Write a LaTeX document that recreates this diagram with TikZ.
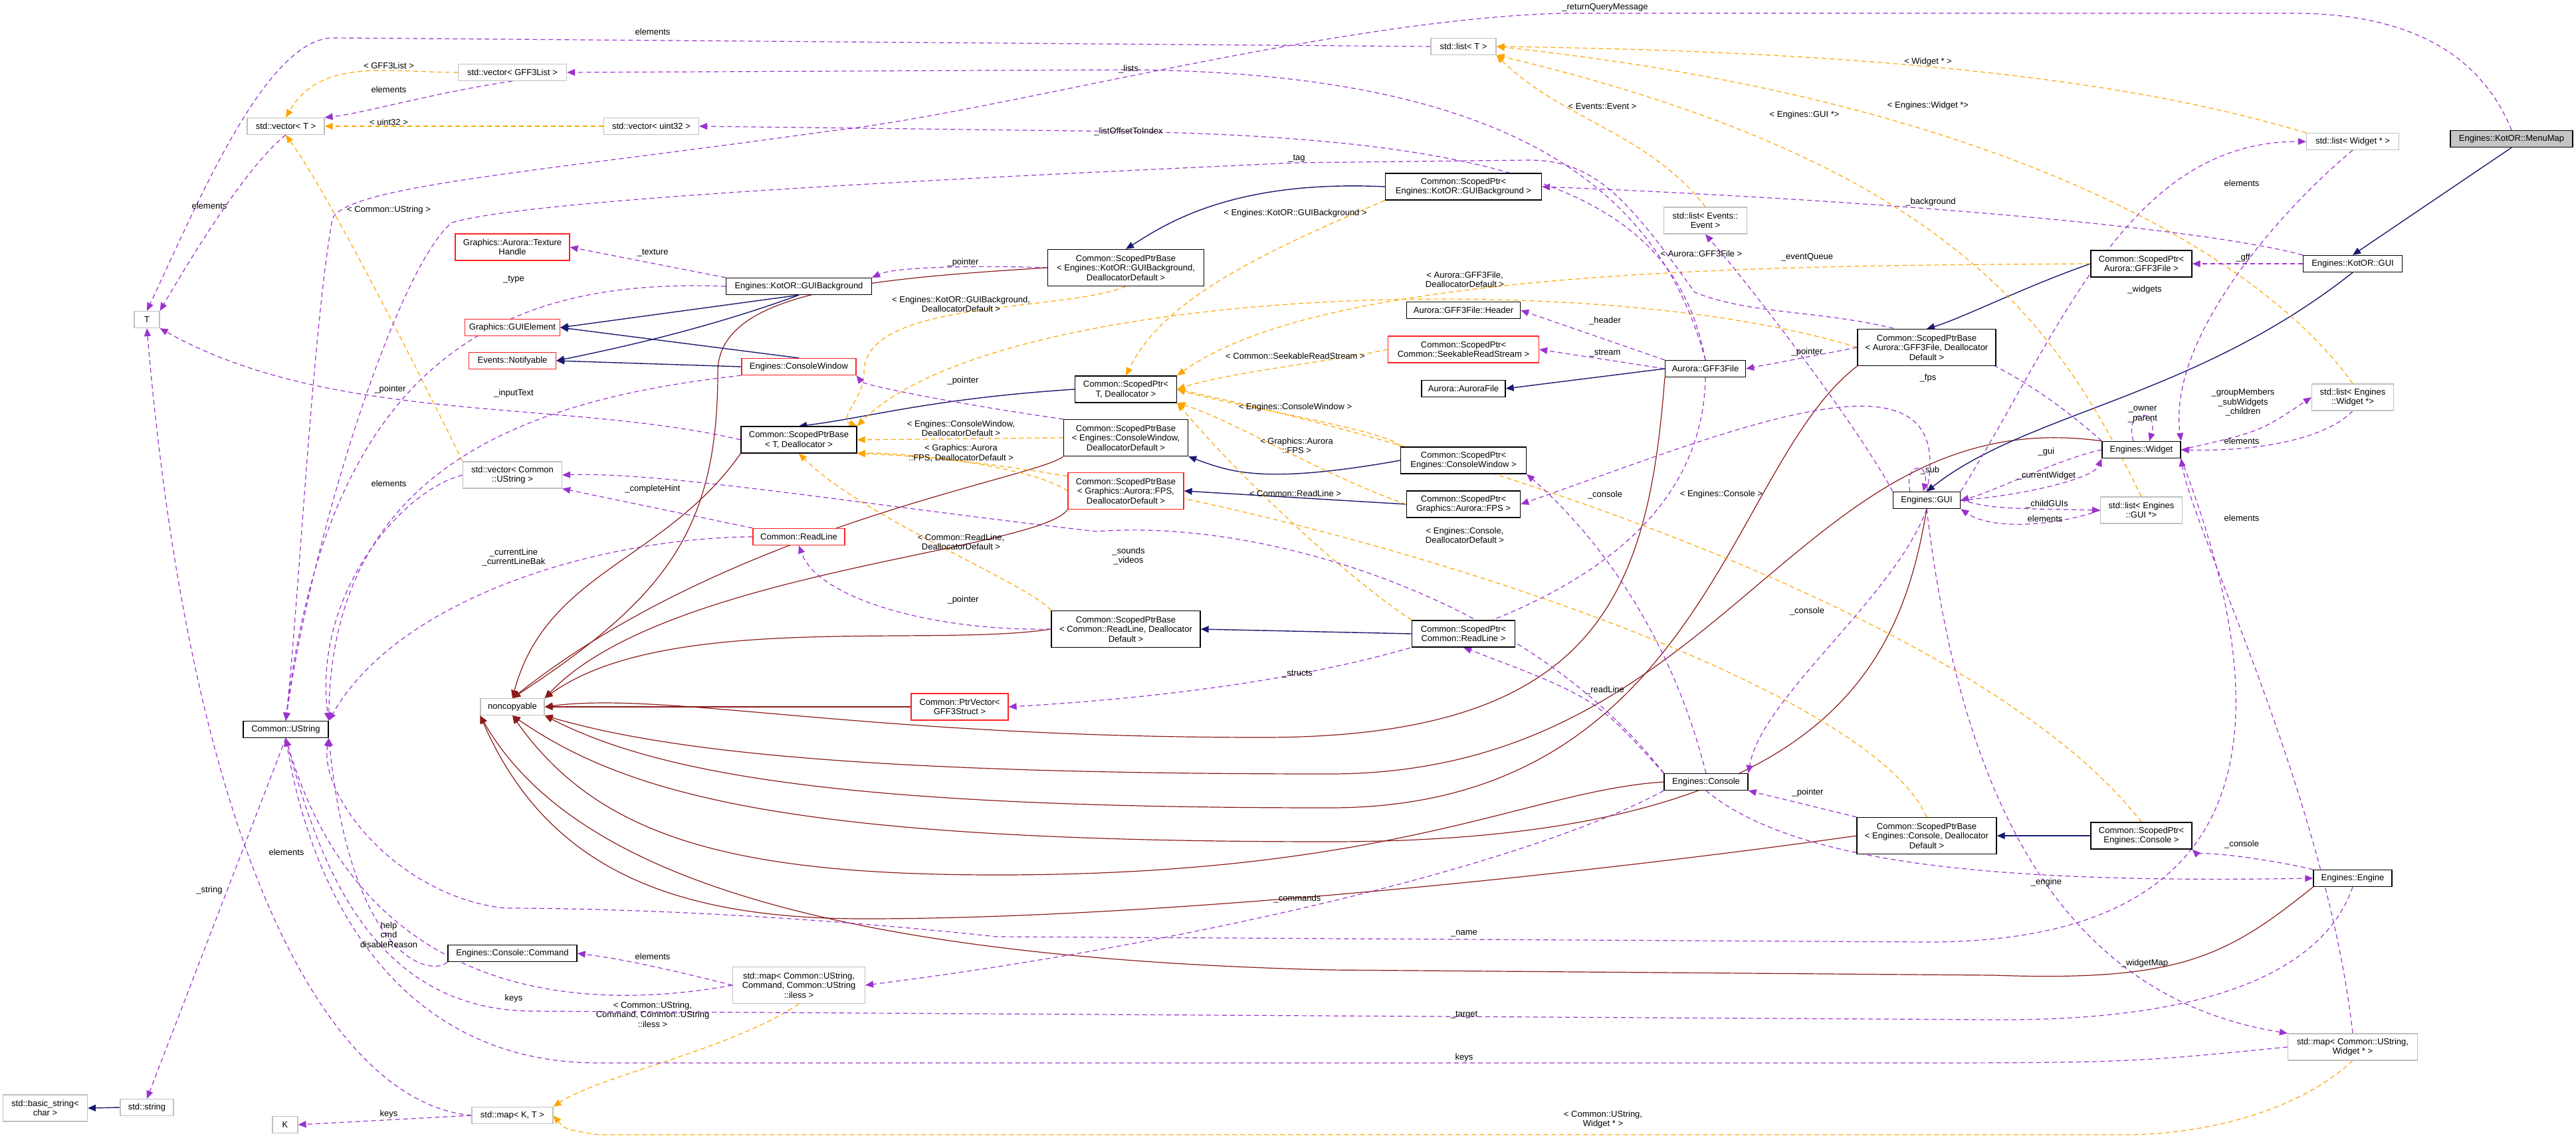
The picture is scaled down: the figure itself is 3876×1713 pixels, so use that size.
\documentclass[tikz,border=0pt]{standalone}
\usepackage{fontspec}
\setmainfont{Liberation Sans}
\usetikzlibrary{arrows.meta}
\definecolor{cpur}{HTML}{9A32CD}
\definecolor{corg}{HTML}{FFA500}
\definecolor{cnav}{HTML}{191970}
\definecolor{cdr}{HTML}{8B1A1A}
\definecolor{cgr}{HTML}{BFBFBF}
\definecolor{cred}{HTML}{FF2020}
\pgfdeclarelayer{edges}
\pgfsetlayers{edges,main}
\newcounter{lbc}
\newcommand\lab[2]{\stepcounter{lbc}\node[lab] (lab\arabic{lbc}) at (#1) {#2};}
\begin{document}
\begin{tikzpicture}[x=1pt,y=1pt,
  every node/.style={font=\fontsize{13}{14.5}\selectfont},
  bx/.style={draw=black,line width=1.3pt,fill=white,inner sep=2pt,align=center,minimum height=25},
  b2/.style={minimum height=40},
  b3/.style={minimum height=55},
  gb/.style={bx,draw=cgr,line width=1.2pt},
  rb/.style={bx,draw=cred,line width=1.2pt},
  lab/.style={align=center,inner sep=0pt},
  tip/.style={-{Triangle[length=12pt,width=10pt]}},
  use/.style={tip,draw=cpur,line width=1.2pt,dash pattern=on 7pt off 5pt},
  tmpl/.style={tip,draw=corg,line width=1.2pt,dash pattern=on 7pt off 5pt},
  inh/.style={tip,draw=cnav,line width=1.4pt},
  nc/.style={tip,draw=cdr,line width=1.2pt}]
\useasboundingbox (0,0) rectangle (3876,-1713);
% nodes
\node[bx,fill=cgr!90!white,minimum width=184] (menumap) at (3779,-209) {Engines::KotOR::MenuMap};
\node[bx,minimum width=149] (kgui) at (3540,-397) {Engines::KotOR::GUI};
\node[gb,minimum width=139] (listw) at (3540,-213) {std::list< Widget * >};
\node[gb,minimum width=98] (listt) at (2202,-70) {std::list< T >};
\node[gb,minimum width=163] (vecgff) at (771,-109) {std::vector< GFF3List >};
\node[gb,minimum width=116] (vect) at (430,-190) {std::vector< T >};
\node[gb,minimum width=143] (vecu) at (980,-190) {std::vector< uint32 >};
\node[gb,minimum width=38] (T) at (221,-481) {T};
\node[rb,b2,minimum width=172] (tex) at (771,-372) {Graphics::Aurora::Texture\\Handle};
\node[bx,minimum width=219] (guibg) at (1202,-431) {Engines::KotOR::GUIBackground};
\node[rb,minimum width=143] (guiel) at (771,-493) {Graphics::GUIElement};
\node[rb,minimum width=131] (notif) at (771,-543) {Events::Notifyable};
\node[rb,minimum width=172] (conwin) at (1202,-552) {Engines::ConsoleWindow};
\node[bx,b2,minimum width=174] (spbt) at (1202,-662) {Common::ScopedPtrBase\\< T, Deallocator >};
\node[gb,b2,minimum width=149] (vecus) at (771,-715) {std::vector< Common\\::UString >};
\node[rb,minimum width=138] (readline) at (1202,-808) {Common::ReadLine};
\node[bx,b2,minimum width=235] (spgb) at (2202,-281) {Common::ScopedPtr<\\Engines::KotOR::GUIBackground >};
\node[bx,b3,minimum width=235] (spbgb) at (1694,-403) {Common::ScopedPtrBase\\< Engines::KotOR::GUIBackground,\\DeallocatorDefault >};
\node[bx,minimum width=171] (header) at (2202,-467) {Aurora::GFF3File::Header};
\node[rb,b2,minimum width=227] (spsrs) at (2202,-526) {Common::ScopedPtr<\\Common::SeekableReadStream >};
\node[bx,minimum width=121] (gff) at (2566,-555) {Aurora::GFF3File};
\node[bx,minimum width=126] (aurf) at (2202,-585) {Aurora::AuroraFile};
\node[bx,b2,minimum width=153] (spt) at (1694,-586) {Common::ScopedPtr<\\T, Deallocator >};
\node[bx,b3,minimum width=187] (spbcw) at (1694,-659) {Common::ScopedPtrBase\\< Engines::ConsoleWindow,\\DeallocatorDefault >};
\node[rb,b3,minimum width=174] (spbfps) at (1694,-739) {Common::ScopedPtrBase\\< Graphics::Aurora::FPS,\\DeallocatorDefault >};
\node[bx,b2,minimum width=189] (spcw) at (2202,-693) {Common::ScopedPtr<\\Engines::ConsoleWindow >};
\node[bx,b2,minimum width=171] (spfps) at (2202,-759) {Common::ScopedPtr<\\Graphics::Aurora::FPS >};
\node[gb,b2,minimum width=125] (liste) at (2566,-332) {std::list< Events::\\Event >};
\node[bx,b2,minimum width=152] (spgff) at (3222,-397) {Common::ScopedPtr<\\Aurora::GFF3File >};
\node[bx,b3,minimum width=208] (spbgff) at (2899,-523) {Common::ScopedPtrBase\\< Aurora::GFF3File, Deallocator\\Default >};
\node[gb,b2,minimum width=123] (listew) at (3540,-598) {std::list< Engines\\::Widget *>};
\node[bx,minimum width=118] (widget) at (3222,-677) {Engines::Widget};
\node[bx,minimum width=101] (gui) at (2899,-753) {Engines::GUI};
\node[gb,b2,minimum width=123] (listg) at (3222,-768) {std::list< Engines\\::GUI *>};
\node[gb,minimum width=96] (noncop) at (771,-1064) {noncopyable};
\node[bx,minimum width=128] (ustr) at (430,-1098) {Common::UString};
\node[bx,minimum width=194] (cmd) at (771,-1435) {Engines::Console::Command};
\node[gb,b3,minimum width=199] (mapcmd) at (1202,-1483) {std::map< Common::UString,\\Command, Common::UString\\::iless >};
\node[gb,b2,minimum width=127] (bstr) at (68,-1668) {std::basic\_string<\\char >};
\node[gb,minimum width=80] (sstr) at (221,-1667) {std::string};
\node[gb,minimum width=38] (K) at (429,-1693) {K};
\node[gb,minimum width=122] (mapkt) at (771,-1679) {std::map< K, T >};
\node[bx,b3,minimum width=224] (spbrl) at (1694,-947) {Common::ScopedPtrBase\\< Common::ReadLine, Deallocator\\Default >};
\node[bx,b2,minimum width=155] (sprl) at (2202,-954) {Common::ScopedPtr<\\Common::ReadLine >};
\node[rb,b2,minimum width=146] (ptrvec) at (1444,-1064) {Common::PtrVector<\\GFF3Struct >};
\node[bx,minimum width=126] (console) at (2567,-1177) {Engines::Console};
\node[bx,b3,minimum width=210] (spbcon) at (2899,-1258) {Common::ScopedPtrBase\\< Engines::Console, Deallocator\\Default >};
\node[bx,b2,minimum width=152] (spcon) at (3222,-1258) {Common::ScopedPtr<\\Engines::Console >};
\node[bx,minimum width=118] (engine) at (3540,-1322) {Engines::Engine};
\node[gb,b2,minimum width=195] (mapw) at (3540,-1576) {std::map< Common::UString,\\Widget * >};
\begin{pgfonlayer}{edges}
% noncopyable inheritance
\draw[nc] (spbt.south west) to[out=235,in=75] (noncop.north);
\draw[nc] (spbgb.west) .. controls (1300,-420) and (1080,-440) .. (1080,-560) .. controls (1080,-800) and (1000,-900) .. (noncop.north);
\draw[nc] (spbcw.south west) .. controls (1560,-720) and (1100,-790) .. (noncop.north);
\draw[nc] (spbfps.south west) .. controls (1560,-830) and (1000,-860) .. (noncop.north east);
\draw[nc] (spbrl.west) .. controls (1400,-975) and (1000,-920) .. (noncop.north east);
\draw[nc] (ptrvec.west) -- (noncop.east);
\draw[nc] (gff.south west) .. controls (2480,-900) and (2400,-1110) .. (1900,-1110) .. controls (1300,-1110) and (1000,-1040) .. (noncop.east);
\draw[nc] (widget.north west) .. controls (2700,-600) and (2600,-1165) .. (2000,-1165) .. controls (1300,-1165) and (1000,-1130) .. (noncop.south east);
\draw[nc] (spbgff.south west) .. controls (2600,-700) and (2560,-1216) .. (2000,-1216) .. controls (1300,-1216) and (1000,-1170) .. (noncop.south east);
\draw[nc] (gui.south) .. controls (2860,-1000) and (2750,-1267) .. (2000,-1267) .. controls (1200,-1267) and (950,-1200) .. (noncop.south);
\draw[nc] (console.west) .. controls (2300,-1190) and (2100,-1317) .. (1500,-1317) .. controls (1100,-1317) and (900,-1260) .. (noncop.south);
\draw[nc] (spbcon.west) .. controls (2500,-1300) and (1800,-1383) .. (1300,-1383) .. controls (1000,-1383) and (820,-1300) .. (noncop.south west);
\draw[nc] (engine.south west) .. controls (3350,-1440) and (3280,-1478) .. (3000,-1468) -- (2000,-1460) .. controls (1200,-1440) and (850,-1300) .. (noncop.south west);
% inheritance
\draw[inh] (menumap.south) -- (kgui.north);
\draw[inh] (kgui.south) .. controls (3300,-600) and (3050,-620) .. (gui.north);
\draw[inh] (guibg.south) -- (guiel.east);
\draw[inh] (guibg.south) .. controls (1050,-500) and (900,-530) .. (notif.east);
\draw[inh] (conwin.north) -- (guiel.east);
\draw[inh] (conwin.west) -- (notif.east);
\draw[inh] (spgb.west) .. controls (1850,-270) and (1750,-340) .. (spbgb.north);
\draw[inh] (spgff.west) .. controls (3050,-430) and (2950,-480) .. (spbgff.north);
\draw[inh] (spt.west) .. controls (1400,-600) and (1300,-630) .. (spbt.north);
\draw[inh] (spcw.west) .. controls (1900,-730) and (1850,-710) .. (spbcw.south east);
\draw[inh] (spfps.west) -- (spbfps.east);
\draw[inh] (sprl.west) -- (spbrl.east);
\draw[inh] (spcon.west) -- (spbcon.east);
\draw[inh] (gff.west) -- (aurf.east);
\draw[inh] (sstr.west) -- (bstr.east);
% template instantiation
\draw[tmpl] (vecgff.west) to[out=180,in=60] (vect.north);
\draw[tmpl] (vecu.west) -- (vect.east);
\draw[tmpl] (vecus.north west) .. controls (650,-600) and (500,-300) .. (vect.south);
\draw[tmpl] (listw.north west) .. controls (3300,-150) and (3000,-80) .. (listt.east);
\draw[tmpl] (listew.north) .. controls (3400,-380) and (3000,-150) .. (listt.east);
\draw[tmpl] (listg.north) .. controls (3100,-500) and (2950,-250) .. (listt.south east);
\draw[tmpl] (liste.north) .. controls (2480,-200) and (2350,-180) .. (listt.south east);
\draw[tmpl] (spgb.south west) .. controls (1900,-380) and (1750,-450) .. (spt.north);
\draw[tmpl] (spgff.west) .. controls (2700,-400) and (2000,-400) .. (spt.north east);
\draw[tmpl] (spsrs.west) .. controls (2000,-545) and (1850,-560) .. (spt.east);
\draw[tmpl] (spcw.north west) .. controls (2100,-650) and (1850,-610) .. (spt.east);
\draw[tmpl] (spfps.west) .. controls (2000,-720) and (1850,-630) .. (spt.south east);
\draw[tmpl] (sprl.north west) .. controls (2000,-850) and (1850,-700) .. (spt.south east);
\draw[tmpl] (spcon.north) .. controls (3000,-950) and (2300,-700) .. (spt.east);
\draw[tmpl] (spbgb.south) .. controls (1600,-470) and (1300,-450) .. (1300,-560) .. controls (1300,-600) and (1260,-630) .. (spbt.north east);
\draw[tmpl] (spbgff.west) .. controls (2400,-400) and (1500,-430) .. (spbt.north east);
\draw[tmpl] (spbcw.west) -- (spbt.east);
\draw[tmpl] (spbfps.west) .. controls (1550,-700) and (1350,-680) .. (spbt.south east);
\draw[tmpl] (spbrl.north west) .. controls (1550,-880) and (1300,-780) .. (spbt.south);
\draw[tmpl] (spbcon.north) .. controls (2800,-1000) and (1800,-700) .. (spbt.south east);
\draw[tmpl] (mapcmd.south) .. controls (1100,-1580) and (900,-1620) .. (mapkt.north east);
\draw[tmpl] (mapw.south) .. controls (3450,-1680) and (3300,-1708) .. (3200,-1708) -- (900,-1708) .. controls (850,-1700) .. (mapkt.east);
% usage
\draw[use] (listt.west) -- (500,-57) .. controls (400,-60) and (300,-300) .. (T.north);
\draw[use] (vecgff.south) .. controls (650,-140) and (550,-170) .. (vect.north east);
\draw[use] (vect.south) .. controls (370,-250) and (280,-400) .. (T.north east);
\draw[use] (gff.north) .. controls (2500,-300) and (2300,-110) .. (1700,-105) -- (vecgff.east);
\draw[use] (gff.north) .. controls (2520,-300) and (2300,-210) .. (1700,-198) -- (vecu.east);
\draw[use] (menumap.north) .. controls (3740,-100) and (3650,-20) .. (3450,-20) -- (2350,-20) .. controls (2000,-30) and (1500,-170) .. (1250,-197) .. controls (800,-260) and (520,-280) .. (500,-330) .. controls (470,-500) and (450,-900) .. (ustr.north);
\draw[use] (widget.north west) .. controls (2900,-430) and (2700,-500) .. (2550,-440) .. controls (2450,-300) and (2400,-241) .. (2300,-241) -- (1950,-245) .. controls (1400,-270) and (800,-300) .. (680,-335) .. controls (600,-400) and (470,-800) .. (ustr.north);
\draw[use] (kgui.north west) .. controls (3300,-340) and (2800,-300) .. (spgb.east);
\draw[use] (guibg.north west) -- (tex.east);
\draw[use] (guibg.west) .. controls (800,-420) and (500,-500) .. (ustr.north);
\draw[use] (spbgb.west) .. controls (1500,-400) and (1350,-400) .. (guibg.north east);
\draw[use] (spbt.west) .. controls (850,-600) and (500,-640) .. (T.south east);
\draw[use] (conwin.south west) .. controls (800,-600) and (500,-700) .. (ustr.north east);
\draw[use] (spbcw.north west) .. controls (1450,-610) and (1300,-580) .. (conwin.south east);
\draw[use] (vecus.west) .. controls (600,-740) and (470,-900) .. (ustr.north east);
\draw[use] (readline.north west) -- (vecus.south east);
\draw[use] (readline.west) .. controls (900,-810) and (600,-900) .. (ustr.north east);
\draw[use] (spbrl.west) .. controls (1400,-950) and (1230,-900) .. (readline.south);
\draw[use] (console.north west) .. controls (2300,-900) and (1900,-780) .. (1650,-800) .. controls (1300,-760) and (1000,-710) .. (vecus.east);
\draw[use] (gff.north west) -- (header.east);
\draw[use] (gff.west) -- (spsrs.east);
\draw[use] (spbgff.west) -- (gff.east);
\draw[use] (kgui.west) -- (spgff.east);
\draw[use] (gui.north west) .. controls (2800,-650) and (2650,-450) .. (liste.south);
\draw[use] (gui.north) .. controls (2950,-500) and (2600,-650) .. (spfps.east);
\draw[use] (gui.north east) .. controls (3100,-500) and (3200,-213) .. (listw.west);
\draw[use] ([xshift=-12]widget.north) .. controls +(-15,50) and +(15,50) .. ([xshift=12]widget.north);
\draw[use] (widget.west) .. controls (3100,-690) and (3000,-740) .. (gui.east);
\draw[use] (gui.east) .. controls (3050,-745) and (3150,-720) .. (widget.south west);
\draw[use] ([xshift=-25]gui.north) .. controls +(-10,45) and +(10,45) .. ([xshift=-5]gui.north);
\draw[use] (gui.east) .. controls (3000,-765) .. (listg.west);
\draw[use] (listg.west) .. controls (3100,-790) and (3000,-800) .. (gui.south east);
\draw[use] (listw.south) .. controls (3450,-300) and (3260,-500) .. (widget.north east);
\draw[use] (widget.east) .. controls (3400,-650) .. (listew.west);
\draw[use] (listew.south) .. controls (3500,-660) and (3400,-680) .. (widget.east);
\draw[use] (mapw.north) .. controls (3500,-1200) and (3300,-800) .. (widget.south east);
\draw[use] (gui.south) .. controls (2850,-900) and (2650,-1050) .. (console.north east);
\draw[use] (console.north) .. controls (2500,-900) and (2350,-760) .. (spcw.south east);
\draw[use] (console.north west) .. controls (2400,-1050) .. (sprl.south);
\draw[use] (gff.south) .. controls (2560,-900) and (2100,-1030) .. (ptrvec.east);
\draw[use] (spbcon.north west) -- (console.south east);
\draw[use] (engine.north west) .. controls (3400,-1290) and (3300,-1280) .. (spcon.south east);
\draw[use] (console.south) .. controls (2700,-1300) and (3000,-1330) .. (engine.west);
\draw[use] (console.south west) .. controls (2300,-1300) and (1800,-1420) .. (mapcmd.east);
\draw[use] (gui.south) .. controls (2950,-1200) and (3100,-1500) .. (mapw.north west);
\draw[use] (widget.south east) .. controls (3440,-1100) and (3400,-1418) .. (2900,-1418) -- (1500,-1410) .. controls (1100,-1367) and (800,-1367) .. (760,-1367) .. controls (600,-1350) and (480,-1200) .. (ustr.south east);
\draw[use] (engine.south) .. controls (3500,-1450) and (3350,-1537) .. (3000,-1535) -- (800,-1522) .. controls (560,-1520) and (480,-1300) .. (ustr.south);
\draw[use] (mapw.west) .. controls (3200,-1600) .. (2800,-1600) -- (900,-1600) .. controls (600,-1600) and (470,-1350) .. (ustr.south);
\draw[use] (cmd.south west) .. controls (650,-1470) and (530,-1450) .. (ustr.south east);
\draw[use] (mapcmd.west) .. controls (1050,-1470) and (950,-1445) .. (cmd.east);
\draw[use] (mapcmd.west) .. controls (900,-1520) and (550,-1520) .. (ustr.south);
\draw[use] (ustr.south) -- (sstr.north);
\draw[use] (mapkt.west) .. controls (500,-1660) and (290,-1300) .. (T.south);
\draw[use] (mapkt.west) -- (K.east);
\end{pgfonlayer}
% labels
\lab{982,-48}{elements}
\lab{585,-99}{< GFF3List >}
\lab{585,-135}{elements}
\lab{585,-184}{< uint32 >}
\lab{315,-310}{elements}
\lab{585,-316}{< Common::UString >}
\lab{982,-381}{\_texture}
\lab{773,-421}{\_type}
\lab{587,-586}{\_pointer}
\lab{773,-592}{\_inputText}
\lab{585,-728}{elements}
\lab{982,-736}{\_completeHint}
\lab{773,-839}{\_currentLine\\\_currentLineBak}
\lab{2415,-11}{\_returnQueryMessage}
\lab{1698,-104}{\_lists}
\lab{2411,-160}{< Events::Event >}
\lab{1698,-198}{\_listOffsetToIndex}
\lab{1951,-239}{\_tag}
\lab{1949,-321}{< Engines::KotOR::GUIBackground >}
\lab{1449,-395}{\_pointer}
\lab{1446,-458}{< Engines::KotOR::GUIBackground,\\DeallocatorDefault >}
\lab{2204,-421}{< Aurora::GFF3File,\\DeallocatorDefault >}
\lab{2560,-382}{< Aurora::GFF3File >}
\lab{2415,-483}{\_header}
\lab{2415,-532}{\_stream}
\lab{1949,-536}{< Common::SeekableReadStream >}
\lab{1449,-573}{\_pointer}
\lab{1949,-613}{< Engines::ConsoleWindow >}
\lab{1446,-645}{< Engines::ConsoleWindow,\\DeallocatorDefault >}
\lab{1446,-682}{< Graphics::Aurora\\::FPS, DeallocatorDefault >}
\lab{1951,-671}{< Graphics::Aurora\\::FPS >}
\lab{1949,-743}{< Common::ReadLine >}
\lab{2415,-745}{\_console}
\lab{2204,-806}{< Engines::Console,\\DeallocatorDefault >}
\lab{1446,-816}{< Common::ReadLine,\\DeallocatorDefault >}
\lab{1698,-837}{\_sounds\\\_videos}
\lab{2590,-744}{< Engines::Console >}
\lab{2901,-93}{< Widget * >}
\lab{2901,-159}{< Engines::Widget *>}
\lab{2715,-173}{< Engines::GUI *>}
\lab{3373,-276}{elements}
\lab{2905,-304}{\_background}
\lab{2719,-387}{\_eventQueue}
\lab{3375,-388}{\_gff}
\lab{3227,-436}{\_widgets}
\lab{2901,-569}{\_fps}
\lab{2719,-530}{\_pointer}
\lab{3375,-606}{\_groupMembers\\\_subWidgets\\\_children}
\lab{3224,-624}{\_owner\\\_parent}
\lab{3373,-664}{elements}
\lab{3079,-680}{\_gui}
\lab{2904,-708}{\_sub}
\lab{3079,-716}{\_currentWidget}
\lab{3080,-759}{\_childGUIs}
\lab{3077,-781}{elements}
\lab{3373,-780}{elements}
\lab{431,-1283}{elements}
\lab{315,-1340}{\_string}
\lab{585,-1407}{help\\cmd\\disableReason}
\lab{982,-1440}{elements}
\lab{773,-1503}{keys}
\lab{982,-1527}{< Common::UString,\\Command, Common::UString\\::iless >}
\lab{585,-1677}{keys}
\lab{1449,-903}{\_pointer}
\lab{1952,-1015}{\_structs}
\lab{2415,-1039}{\_readLine}
\lab{1952,-1353}{\_commands}
\lab{2203,-1405}{\_name}
\lab{2203,-1528}{\_target}
\lab{2203,-1592}{keys}
\lab{2412,-1685}{< Common::UString,\\Widget * >}
\lab{2719,-920}{\_console}
\lab{2720,-1193}{\_pointer}
\lab{3373,-1271}{\_console}
\lab{3079,-1328}{\_engine}
\lab{3227,-1450}{\_widgetMap}
\end{tikzpicture}
\end{document}
